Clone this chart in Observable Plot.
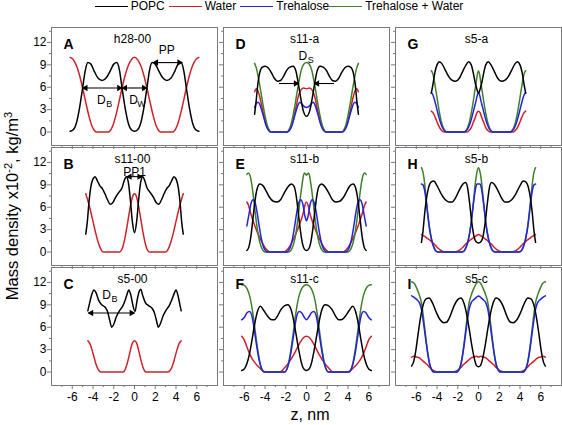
<!DOCTYPE html>
<html><head><meta charset="utf-8">
<script src="https://cdn.jsdelivr.net/npm/d3@7"></script>
<script src="https://cdn.jsdelivr.net/npm/@observablehq/plot@0.6"></script>
<style>
body{margin:0;background:#fff;}
#wrap{position:relative;width:562px;height:425px;background:#fff;font-family:'Liberation Sans',Arial,sans-serif;color:#000;overflow:hidden}
#legend{position:absolute;top:-1px;left:0;width:562px;height:14px;display:flex;justify-content:center;align-items:center;font-size:12px;line-height:12px;white-space:nowrap;z-index:2}
#legend .sw{display:inline-block;width:33px;height:0;margin-right:3px}
#legend .lb{margin-right:4px}
#ytitle{position:absolute;left:-168px;top:197px;width:360px;height:18px;line-height:18px;text-align:center;font-size:16.5px;transform:rotate(-90deg);white-space:nowrap;z-index:2}
#ytitle sup{font-size:11px;vertical-align:6px;line-height:0}
#xtitle{position:absolute;left:260px;top:405px;width:100px;height:20px;line-height:20px;text-align:center;font-size:16px;z-index:2}
#chart{position:absolute;left:0;top:20px;z-index:1}
</style>
</head><body>
<div id="wrap">
<div id="chart"></div>
<div id="legend"></div>
<div id="ytitle">Mass density x10<sup>-2</sup>, kg/m<sup>3</sup></div>
<div id="xtitle">z, nm</div>
</div>
<script>
// ---------- categories ----------
const seriesNames = ["POPC", "Water", "Trehalose", "Trehalose + Water"];
const seriesColors = ["#000000", "#cc2229", "#2323dd", "#3f8029"];
const panels   = ["A", "B", "C", "D", "E", "F", "G", "H", "I"];
const panelCol = [0, 0, 0, 1, 1, 1, 2, 2, 2];
const panelRow = [0, 1, 2, 0, 1, 2, 0, 1, 2];
const titles   = ["h28-00", "s11-00", "s5-00", "s11-a", "s11-b", "s11-c", "s5-a", "s5-b", "s5-c"];
const xMajor = [-6, -4, -2, 0, 2, 4, 6];
const xMinor = [-7, -5, -3, -1, 1, 3, 5, 7];
const yMajor = [0, 3, 6, 9, 12];
const yMinor = [1.5, 4.5, 7.5, 10.5, 13.5];

// ---------- series values [z, density] ----------
const popcA = [[-6.2,0.1],[-5.9,0.3],[-5.6,1.2],[-5.3,3.2],[-5.0,5.9],[-4.75,8.2],[-4.5,9.3],[-4.2,9.1],[-3.9,8.2],[-3.5,7.2],[-3.1,6.9],[-2.7,7.3],[-2.3,8.3],[-2.0,9.1],[-1.7,9.3],[-1.45,8.3],[-1.2,5.9],[-0.9,3.2],[-0.6,1.2],[-0.3,0.3],[0,0.1],[0.3,0.3],[0.6,1.2],[0.9,3.2],[1.2,5.9],[1.45,8.3],[1.7,9.3],[2.0,9.1],[2.3,8.3],[2.7,7.3],[3.1,6.9],[3.5,7.2],[3.9,8.2],[4.2,9.1],[4.5,9.3],[4.75,8.2],[5.0,5.9],[5.3,3.2],[5.6,1.2],[5.9,0.3],[6.2,0.1]];
const waterA = [[-6.2,10],[-5.9,9.7],[-5.6,8.9],[-5.3,7.6],[-5.0,5.9],[-4.7,4.0],[-4.4,2.2],[-4.1,0.8],[-3.8,0.1],[-3.6,0],[-2.6,0],[-2.4,0.1],[-2.1,0.8],[-1.8,2.2],[-1.5,4.0],[-1.2,5.9],[-0.9,7.6],[-0.6,8.9],[-0.3,9.7],[0,10],[0.3,9.7],[0.6,8.9],[0.9,7.6],[1.2,5.9],[1.5,4.0],[1.8,2.2],[2.1,0.8],[2.4,0.1],[2.6,0],[3.6,0],[3.8,0.1],[4.1,0.8],[4.4,2.2],[4.7,4.0],[5.0,5.9],[5.3,7.6],[5.6,8.9],[5.9,9.7],[6.2,10]];

const popcB = [[-4.7,2.4],[-4.55,4.0],[-4.4,6.5],[-4.2,8.8],[-4.0,9.8],[-3.8,10.1],[-3.6,9.6],[-3.35,8.9],[-3.1,8.5],[-2.85,7.8],[-2.6,7.0],[-2.35,6.4],[-2.1,6.6],[-1.8,7.4],[-1.5,8.0],[-1.2,8.6],[-1.0,9.5],[-0.8,10.1],[-0.6,9.4],[-0.4,7.0],[-0.2,4.0],[0,2.6],[0.2,4.0],[0.4,7.0],[0.6,9.4],[0.8,10.1],[1.0,9.5],[1.2,8.6],[1.5,8.0],[1.8,7.4],[2.1,6.6],[2.35,6.4],[2.6,7.0],[2.85,7.8],[3.1,8.5],[3.35,8.9],[3.6,9.6],[3.8,10.1],[4.0,9.8],[4.2,8.8],[4.4,6.5],[4.55,4.0],[4.7,2.4]];
const waterB = [[-4.7,7.8],[-4.5,6.9],[-4.25,5.6],[-4.0,4.1],[-3.75,2.6],[-3.5,1.3],[-3.25,0.4],[-3.0,0],[-1.45,0],[-1.2,0.4],[-0.95,1.7],[-0.7,3.6],[-0.5,5.3],[-0.3,6.8],[-0.1,7.7],[0,7.8],[0.1,7.7],[0.3,6.8],[0.5,5.3],[0.7,3.6],[0.95,1.7],[1.2,0.4],[1.45,0],[3.0,0],[3.25,0.4],[3.5,1.3],[3.75,2.6],[4.0,4.1],[4.25,5.6],[4.5,6.9],[4.7,7.8]];

const popcC = [[-4.5,8.2],[-4.3,9.4],[-4.1,10.5],[-3.9,11.0],[-3.7,10.6],[-3.45,9.6],[-3.15,9.0],[-2.85,8.7],[-2.6,8.1],[-2.4,7.0],[-2.2,6.0],[-2.0,6.4],[-1.75,7.4],[-1.45,8.2],[-1.15,8.8],[-0.9,9.6],[-0.7,10.5],[-0.55,11.0],[-0.35,10.3],[-0.15,8.9],[0.05,8.1],[0.25,9.6],[0.45,10.8],[0.6,11.1],[0.8,10.2],[1.05,9.3],[1.35,8.9],[1.65,8.6],[1.9,8.0],[2.1,7.0],[2.3,6.0],[2.5,6.5],[2.75,7.5],[3.05,8.3],[3.35,8.9],[3.6,9.7],[3.85,10.6],[4.0,11.0],[4.2,10.2],[4.35,9.2],[4.5,8.2]];
const waterC = [[-4.5,4.2],[-4.3,3.8],[-4.1,3.0],[-3.9,2.0],[-3.7,1.0],[-3.5,0.35],[-3.3,0.05],[-3.1,0],[-1.2,0],[-1.0,0.1],[-0.8,0.7],[-0.6,1.7],[-0.4,2.9],[-0.2,3.9],[0,4.2],[0.2,3.9],[0.4,2.9],[0.6,1.7],[0.8,0.7],[1.0,0.1],[1.2,0],[3.1,0],[3.3,0.05],[3.5,0.35],[3.7,1.0],[3.9,2.0],[4.1,3.0],[4.3,3.8],[4.5,4.2]];

const popcD = [[-5.0,2.4],[-4.85,4.2],[-4.7,6.3],[-4.5,8.0],[-4.25,8.7],[-4.0,8.8],[-3.7,8.6],[-3.4,8.0],[-3.1,7.2],[-2.8,6.8],[-2.5,6.9],[-2.2,7.5],[-1.9,8.3],[-1.6,8.7],[-1.3,8.8],[-1.05,8.3],[-0.8,6.6],[-0.55,4.5],[-0.3,2.8],[0,2.1],[0.3,2.8],[0.55,4.5],[0.8,6.6],[1.05,8.3],[1.3,8.8],[1.6,8.7],[1.9,8.3],[2.2,7.5],[2.5,6.9],[2.8,6.8],[3.1,7.2],[3.4,8.0],[3.7,8.6],[4.0,8.8],[4.25,8.7],[4.5,8.0],[4.7,6.3],[4.85,4.2],[5.0,2.4]];
const waterD = [[-5.0,5.4],[-4.85,5.8],[-4.7,5.6],[-4.5,4.7],[-4.3,3.4],[-4.1,2.1],[-3.9,1.0],[-3.7,0.35],[-3.5,0.05],[-3.35,0],[-1.95,0],[-1.8,0.05],[-1.6,0.35],[-1.4,1.0],[-1.2,2.1],[-1.0,3.4],[-0.8,4.7],[-0.55,5.6],[-0.3,5.9],[0,5.8],[0.3,5.9],[0.55,5.6],[0.8,4.7],[1.0,3.4],[1.2,2.1],[1.4,1.0],[1.6,0.35],[1.8,0.05],[1.95,0],[3.35,0],[3.5,0.05],[3.7,0.35],[3.9,1.0],[4.1,2.1],[4.3,3.4],[4.5,4.7],[4.7,5.6],[4.85,5.8],[5.0,5.4]];
const treD = [[-5.0,3.3],[-4.85,3.8],[-4.65,4.0],[-4.45,3.5],[-4.25,2.6],[-4.05,1.6],[-3.85,0.7],[-3.65,0.2],[-3.45,0],[-1.85,0],[-1.65,0.2],[-1.45,0.7],[-1.25,1.6],[-1.05,2.6],[-0.85,3.5],[-0.65,4.0],[-0.4,3.7],[-0.15,3.35],[0,3.3],[0.15,3.35],[0.4,3.7],[0.65,4.0],[0.85,3.5],[1.05,2.6],[1.25,1.6],[1.45,0.7],[1.65,0.2],[1.85,0],[3.45,0],[3.65,0.2],[3.85,0.7],[4.05,1.6],[4.25,2.6],[4.45,3.5],[4.65,4.0],[4.85,3.8],[5.0,3.3]];
const twD = [[-5.0,9.2],[-4.8,8.4],[-4.6,7.0],[-4.4,5.4],[-4.2,3.7],[-4.0,2.2],[-3.8,1.0],[-3.6,0.3],[-3.4,0],[-1.9,0],[-1.7,0.3],[-1.5,1.0],[-1.3,2.2],[-1.1,3.7],[-0.9,5.4],[-0.7,7.0],[-0.5,8.3],[-0.25,9.1],[0,9.3],[0.25,9.1],[0.5,8.3],[0.7,7.0],[0.9,5.4],[1.1,3.7],[1.3,2.2],[1.5,1.0],[1.7,0.3],[1.9,0],[3.4,0],[3.6,0.3],[3.8,1.0],[4.0,2.2],[4.2,3.7],[4.4,5.4],[4.6,7.0],[4.8,8.4],[5.0,9.2]];

const popcE = [[-5.75,0.2],[-5.55,0.7],[-5.35,2.2],[-5.15,4.6],[-4.95,7.0],[-4.75,8.5],[-4.5,9.1],[-4.2,8.9],[-3.9,8.2],[-3.55,7.3],[-3.2,6.8],[-2.85,6.7],[-2.5,7.0],[-2.15,7.9],[-1.8,8.7],[-1.45,9.1],[-1.2,8.8],[-1.0,7.6],[-0.8,5.4],[-0.6,3.0],[-0.4,1.2],[-0.2,0.4],[0,0.2],[0.2,0.4],[0.4,1.2],[0.6,3.0],[0.8,5.4],[1.0,7.6],[1.2,8.8],[1.45,9.1],[1.8,8.7],[2.15,7.9],[2.5,7.0],[2.85,6.7],[3.2,6.8],[3.55,7.3],[3.9,8.2],[4.2,8.9],[4.5,9.1],[4.75,8.5],[4.95,7.0],[5.15,4.6],[5.35,2.2],[5.55,0.7],[5.75,0.2]];
const waterE = [[-5.75,6.7],[-5.6,6.3],[-5.4,5.3],[-5.2,4.4],[-5.0,3.6],[-4.75,2.7],[-4.5,1.9],[-4.25,1.2],[-4.0,0.6],[-3.75,0.2],[-3.5,0],[-2.2,0],[-1.95,0.2],[-1.7,0.6],[-1.45,1.2],[-1.2,1.9],[-0.95,2.7],[-0.7,3.6],[-0.5,4.4],[-0.3,5.3],[-0.15,6.3],[0,6.7],[0.15,6.3],[0.3,5.3],[0.5,4.4],[0.7,3.6],[0.95,2.7],[1.2,1.9],[1.45,1.2],[1.7,0.6],[1.95,0.2],[2.2,0],[3.5,0],[3.75,0.2],[4.0,0.6],[4.25,1.2],[4.5,1.9],[4.75,2.7],[5.0,3.6],[5.2,4.4],[5.4,5.3],[5.6,6.3],[5.75,6.7]];
const treE = [[-5.75,3.5],[-5.55,5.0],[-5.35,6.5],[-5.15,7.0],[-4.95,6.6],[-4.75,5.2],[-4.55,3.4],[-4.35,1.8],[-4.15,0.7],[-3.95,0.2],[-3.8,0],[-1.9,0],[-1.75,0.2],[-1.55,0.7],[-1.35,1.8],[-1.15,3.4],[-0.95,5.2],[-0.75,6.6],[-0.55,7.0],[-0.35,6.4],[-0.15,4.8],[0,4.2],[0.15,4.8],[0.35,6.4],[0.55,7.0],[0.75,6.6],[0.95,5.2],[1.15,3.4],[1.35,1.8],[1.55,0.7],[1.75,0.2],[1.9,0],[3.8,0],[3.95,0.2],[4.15,0.7],[4.35,1.8],[4.55,3.4],[4.75,5.2],[4.95,6.6],[5.15,7.0],[5.35,6.5],[5.55,5.0],[5.75,3.5]];
const twE = [[-5.75,10.4],[-5.6,10.6],[-5.45,10.3],[-5.3,9.3],[-5.15,7.8],[-5.0,6.0],[-4.85,4.2],[-4.7,2.7],[-4.5,1.3],[-4.3,0.5],[-4.1,0.1],[-3.9,0],[-1.8,0],[-1.6,0.1],[-1.4,0.5],[-1.2,1.3],[-1.0,2.7],[-0.85,4.2],[-0.7,6.0],[-0.55,7.8],[-0.4,9.3],[-0.3,10.2],[-0.2,10.6],[0,10.3],[0.2,10.6],[0.3,10.2],[0.4,9.3],[0.55,7.8],[0.7,6.0],[0.85,4.2],[1.0,2.7],[1.2,1.3],[1.4,0.5],[1.6,0.1],[1.8,0],[3.9,0],[4.1,0.1],[4.3,0.5],[4.5,1.3],[4.7,2.7],[4.85,4.2],[5.0,6.0],[5.15,7.8],[5.3,9.3],[5.45,10.3],[5.6,10.6],[5.75,10.4]];

const popcF = [[-6.25,0.2],[-6.0,0.4],[-5.75,1.1],[-5.5,2.4],[-5.25,4.3],[-5.0,6.4],[-4.75,8.0],[-4.45,8.8],[-4.1,8.2],[-3.7,7.4],[-3.35,7.0],[-3.1,7.0],[-2.8,7.5],[-2.45,8.4],[-2.1,8.9],[-1.8,9.0],[-1.5,8.4],[-1.25,7.0],[-1.0,5.0],[-0.75,3.0],[-0.5,1.3],[-0.25,0.4],[0,0.2],[0.25,0.4],[0.5,1.3],[0.75,3.0],[1.0,5.0],[1.25,7.0],[1.5,8.4],[1.8,9.0],[2.1,8.9],[2.45,8.4],[2.8,7.5],[3.1,7.0],[3.35,7.0],[3.7,7.4],[4.1,8.2],[4.45,8.8],[4.75,8.0],[5.0,6.4],[5.25,4.3],[5.5,2.4],[5.75,1.1],[6.0,0.4],[6.25,0.2]];
const waterF = [[-6.25,4.8],[-6.0,4.3],[-5.75,3.4],[-5.5,2.5],[-5.25,1.8],[-5.0,1.3],[-4.7,0.8],[-4.4,0.4],[-4.1,0.1],[-3.85,0],[-2.6,0],[-2.35,0.2],[-2.1,0.6],[-1.8,1.1],[-1.5,1.7],[-1.2,2.4],[-0.9,3.2],[-0.6,4.0],[-0.3,4.6],[0,4.8],[0.3,4.6],[0.6,4.0],[0.9,3.2],[1.2,2.4],[1.5,1.7],[1.8,1.1],[2.1,0.6],[2.35,0.2],[2.6,0],[3.85,0],[4.1,0.1],[4.4,0.4],[4.7,0.8],[5.0,1.3],[5.25,1.8],[5.5,2.5],[5.75,3.4],[6.0,4.3],[6.25,4.8]];
const treF = [[-6.25,7.0],[-6.0,7.3],[-5.75,7.9],[-5.5,8.1],[-5.3,7.7],[-5.1,6.3],[-4.9,4.4],[-4.7,2.6],[-4.5,1.2],[-4.3,0.35],[-4.1,0],[-2.1,0],[-1.9,0.35],[-1.7,1.2],[-1.5,2.6],[-1.3,4.4],[-1.1,6.3],[-0.9,7.7],[-0.7,8.1],[-0.45,7.9],[-0.2,7.3],[0,7.0],[0.2,7.3],[0.45,7.9],[0.7,8.1],[0.9,7.7],[1.1,6.3],[1.3,4.4],[1.5,2.6],[1.7,1.2],[1.9,0.35],[2.1,0],[4.1,0],[4.3,0.35],[4.5,1.2],[4.7,2.6],[4.9,4.4],[5.1,6.3],[5.3,7.7],[5.5,8.1],[5.75,7.9],[6.0,7.3],[6.25,7.0]];
const twF = [[-6.25,11.7],[-6.0,11.6],[-5.75,11.2],[-5.5,10.3],[-5.3,9.0],[-5.1,7.2],[-4.9,5.0],[-4.7,3.0],[-4.5,1.4],[-4.3,0.4],[-4.1,0],[-2.1,0],[-1.9,0.4],[-1.7,1.4],[-1.5,3.0],[-1.3,5.0],[-1.1,7.2],[-0.9,9.0],[-0.7,10.3],[-0.45,11.2],[-0.2,11.6],[0,11.7],[0.2,11.6],[0.45,11.2],[0.7,10.3],[0.9,9.0],[1.1,7.2],[1.3,5.0],[1.5,3.0],[1.7,1.4],[1.9,0.4],[2.1,0],[4.1,0],[4.3,0.4],[4.5,1.4],[4.7,3.0],[4.9,5.0],[5.1,7.2],[5.3,9.0],[5.5,10.3],[5.75,11.2],[6.0,11.6],[6.25,11.7]];

const popcG = [[-4.55,5.2],[-4.4,6.3],[-4.2,8.0],[-4.0,9.0],[-3.75,9.4],[-3.5,9.1],[-3.2,8.3],[-2.9,7.5],[-2.6,7.0],[-2.2,6.8],[-1.85,7.2],[-1.5,8.2],[-1.2,9.0],[-0.95,9.4],[-0.7,9.0],[-0.5,7.9],[-0.3,6.5],[-0.1,5.5],[0,5.2],[0.1,5.5],[0.3,6.5],[0.5,7.9],[0.7,9.0],[0.95,9.4],[1.2,9.0],[1.5,8.2],[1.85,7.2],[2.2,6.8],[2.6,7.0],[2.9,7.5],[3.2,8.3],[3.5,9.1],[3.75,9.4],[4.0,9.0],[4.2,8.0],[4.4,6.3],[4.55,5.2]];
const waterG = [[-4.55,2.8],[-4.35,2.5],[-4.15,1.9],[-3.95,1.2],[-3.75,0.6],[-3.55,0.2],[-3.35,0],[-1.1,0],[-0.9,0.2],[-0.7,0.6],[-0.5,1.3],[-0.3,2.0],[-0.15,2.6],[0,2.8],[0.15,2.6],[0.3,2.0],[0.5,1.3],[0.7,0.6],[0.9,0.2],[1.1,0],[3.35,0],[3.55,0.2],[3.75,0.6],[3.95,1.2],[4.15,1.9],[4.35,2.5],[4.55,2.8]];
const treG = [[-4.55,5.3],[-4.4,5.0],[-4.2,4.1],[-4.0,3.0],[-3.8,1.9],[-3.6,1.0],[-3.4,0.4],[-3.2,0.1],[-3.0,0],[-1.45,0],[-1.25,0.1],[-1.05,0.4],[-0.85,1.0],[-0.65,1.9],[-0.45,3.0],[-0.25,4.1],[-0.1,5.0],[0,5.3],[0.1,5.0],[0.25,4.1],[0.45,3.0],[0.65,1.9],[0.85,1.0],[1.05,0.4],[1.25,0.1],[1.45,0],[3.0,0],[3.2,0.1],[3.4,0.4],[3.6,1.0],[3.8,1.9],[4.0,3.0],[4.2,4.1],[4.4,5.0],[4.55,5.3]];
const twG = [[-4.55,8.2],[-4.4,7.8],[-4.2,6.4],[-4.0,4.6],[-3.8,2.9],[-3.6,1.5],[-3.4,0.6],[-3.2,0.15],[-3.0,0],[-1.45,0],[-1.25,0.15],[-1.05,0.6],[-0.85,1.5],[-0.65,2.9],[-0.45,4.6],[-0.25,6.4],[-0.1,7.8],[0,8.2],[0.1,7.8],[0.25,6.4],[0.45,4.6],[0.65,2.9],[0.85,1.5],[1.05,0.6],[1.25,0.15],[1.45,0],[3.0,0],[3.2,0.15],[3.4,0.6],[3.6,1.5],[3.8,2.9],[4.0,4.6],[4.2,6.4],[4.4,7.8],[4.55,8.2]];

const popcH = [[-5.5,1.3],[-5.35,2.8],[-5.2,5.0],[-5.0,7.3],[-4.8,8.7],[-4.55,9.4],[-4.3,9.5],[-4.0,8.9],[-3.6,7.8],[-3.2,7.0],[-2.85,6.7],[-2.55,6.7],[-2.2,7.3],[-1.85,8.3],[-1.5,9.1],[-1.25,9.3],[-1.05,8.6],[-0.85,6.5],[-0.65,4.0],[-0.45,2.2],[-0.25,1.4],[0,1.2],[0.25,1.4],[0.45,2.2],[0.65,4.0],[0.85,6.5],[1.05,8.6],[1.25,9.3],[1.5,9.1],[1.85,8.3],[2.2,7.3],[2.55,6.7],[2.85,6.7],[3.2,7.0],[3.6,7.8],[4.0,8.9],[4.3,9.5],[4.55,9.4],[4.8,8.7],[5.0,7.3],[5.2,5.0],[5.35,2.8],[5.5,1.3]];
const waterH = [[-5.5,2.35],[-5.2,2.1],[-4.9,1.8],[-4.6,1.5],[-4.3,1.1],[-4.0,0.65],[-3.7,0.3],[-3.4,0.08],[-3.1,0],[-2.4,0],[-2.1,0.08],[-1.8,0.3],[-1.5,0.65],[-1.2,1.1],[-0.9,1.5],[-0.6,1.8],[-0.3,2.1],[0,2.35],[0.3,2.1],[0.6,1.8],[0.9,1.5],[1.2,1.1],[1.5,0.65],[1.8,0.3],[2.1,0.08],[2.4,0],[3.1,0],[3.4,0.08],[3.7,0.3],[4.0,0.65],[4.3,1.1],[4.6,1.5],[4.9,1.8],[5.2,2.1],[5.5,2.35]];
const treH = [[-5.5,9.1],[-5.35,9.0],[-5.2,8.3],[-5.05,6.9],[-4.9,5.1],[-4.75,3.4],[-4.55,1.8],[-4.35,0.8],[-4.15,0.2],[-3.95,0],[-1.55,0],[-1.35,0.2],[-1.15,0.8],[-0.95,1.8],[-0.75,3.4],[-0.6,5.1],[-0.45,6.9],[-0.3,8.4],[-0.15,9.1],[0,9.1],[0.15,9.1],[0.3,8.4],[0.45,6.9],[0.6,5.1],[0.75,3.4],[0.95,1.8],[1.15,0.8],[1.35,0.2],[1.55,0],[3.95,0],[4.15,0.2],[4.35,0.8],[4.55,1.8],[4.75,3.4],[4.9,5.1],[5.05,6.9],[5.2,8.3],[5.35,9.0],[5.5,9.1]];
const twH = [[-5.5,11.3],[-5.35,10.7],[-5.2,9.3],[-5.05,7.3],[-4.9,5.3],[-4.75,3.5],[-4.55,1.9],[-4.35,0.8],[-4.15,0.25],[-3.95,0.05],[-3.7,0],[-1.8,0],[-1.55,0.05],[-1.35,0.25],[-1.15,0.8],[-0.95,1.9],[-0.75,3.5],[-0.6,5.3],[-0.45,7.3],[-0.3,9.3],[-0.15,10.7],[0,11.3],[0.15,10.7],[0.3,9.3],[0.45,7.3],[0.6,5.3],[0.75,3.5],[0.95,1.9],[1.15,0.8],[1.35,0.25],[1.55,0.05],[1.8,0],[3.7,0],[3.95,0.05],[4.15,0.25],[4.35,0.8],[4.55,1.9],[4.75,3.5],[4.9,5.3],[5.05,7.3],[5.2,9.3],[5.35,10.7],[5.5,11.3]];

const popcI = [[-6.45,0.8],[-6.25,1.4],[-6.05,2.8],[-5.85,4.8],[-5.6,7.2],[-5.35,8.9],[-5.05,9.8],[-4.75,9.9],[-4.45,9.3],[-4.1,8.1],[-3.7,7.0],[-3.35,6.6],[-3.05,6.7],[-2.7,7.6],[-2.35,8.9],[-2.0,9.7],[-1.7,9.9],[-1.4,9.2],[-1.15,7.8],[-0.9,5.8],[-0.65,3.6],[-0.4,1.8],[-0.2,0.9],[0,0.7],[0.2,0.9],[0.4,1.8],[0.65,3.6],[0.9,5.8],[1.15,7.8],[1.4,9.2],[1.7,9.9],[2.0,9.7],[2.35,8.9],[2.7,7.6],[3.05,6.7],[3.35,6.6],[3.7,7.0],[4.1,8.1],[4.45,9.3],[4.75,9.9],[5.05,9.8],[5.35,8.9],[5.6,7.2],[5.85,4.8],[6.05,2.8],[6.25,1.4],[6.45,0.8]];
const waterI = [[-6.45,2.0],[-6.2,2.1],[-5.95,2.0],[-5.7,1.9],[-5.45,1.6],[-5.2,1.3],[-4.95,1.0],[-4.7,0.6],[-4.45,0.3],[-4.2,0.1],[-3.95,0],[-2.45,0],[-2.2,0.1],[-1.95,0.3],[-1.7,0.6],[-1.45,1.0],[-1.2,1.3],[-0.95,1.6],[-0.7,1.9],[-0.45,2.0],[-0.2,2.1],[0,2.0],[0.2,2.1],[0.45,2.0],[0.7,1.9],[0.95,1.6],[1.2,1.3],[1.45,1.0],[1.7,0.6],[1.95,0.3],[2.2,0.1],[2.45,0],[3.95,0],[4.2,0.1],[4.45,0.3],[4.7,0.6],[4.95,1.0],[5.2,1.3],[5.45,1.6],[5.7,1.9],[5.95,2.0],[6.2,2.1],[6.45,2.0]];
const treI = [[-6.45,10.2],[-6.2,10.0],[-5.95,9.7],[-5.7,9.3],[-5.5,8.4],[-5.3,6.6],[-5.1,4.5],[-4.9,2.5],[-4.7,1.0],[-4.5,0.25],[-4.3,0],[-2.1,0],[-1.9,0.25],[-1.7,1.0],[-1.5,2.5],[-1.3,4.5],[-1.1,6.6],[-0.9,8.4],[-0.7,9.3],[-0.45,9.7],[-0.2,10.0],[0,10.2],[0.2,10.0],[0.45,9.7],[0.7,9.3],[0.9,8.4],[1.1,6.6],[1.3,4.5],[1.5,2.5],[1.7,1.0],[1.9,0.25],[2.1,0],[4.3,0],[4.5,0.25],[4.7,1.0],[4.9,2.5],[5.1,4.5],[5.3,6.6],[5.5,8.4],[5.7,9.3],[5.95,9.7],[6.2,10.0],[6.45,10.2]];
const twI = [[-6.45,12.1],[-6.2,11.9],[-5.95,11.2],[-5.7,10.3],[-5.5,9.3],[-5.3,7.3],[-5.1,4.9],[-4.9,2.7],[-4.7,1.1],[-4.5,0.3],[-4.3,0],[-2.1,0],[-1.9,0.3],[-1.7,1.1],[-1.5,2.7],[-1.3,4.9],[-1.1,7.3],[-0.9,9.3],[-0.7,10.3],[-0.45,11.2],[-0.2,11.9],[0,12.1],[0.2,11.9],[0.45,11.2],[0.7,10.3],[0.9,9.3],[1.1,7.3],[1.3,4.9],[1.5,2.7],[1.7,1.1],[1.9,0.3],[2.1,0],[4.3,0],[4.5,0.3],[4.7,1.1],[4.9,2.7],[5.1,4.9],[5.3,7.3],[5.5,9.3],[5.7,10.3],[5.95,11.2],[6.2,11.9],[6.45,12.1]];

// ---------- annotations (distances marked in the figure) ----------
const arrowSpans = [
  {panel: "A", x1: -5.0, x2: -1.2, y: 5.9, heads: "both"},
  {panel: "A", x1: -1.2, x2: 1.2, y: 5.9, heads: "both"},
  {panel: "A", x1: 1.8, x2: 4.6, y: 9.3, heads: "both"},
  {panel: "B", x1: -0.75, x2: 0.75, y: 10.1, heads: "both"},
  {panel: "C", x1: -4.45, x2: 0.0, y: 7.9, heads: "both"},
  {panel: "D", x1: -2.65, x2: -0.75, y: 6.5, heads: "end"},
  {panel: "D", x1: 2.65, x2: 0.75, y: 6.5, heads: "end"}
];
const annoLabels = [
  {panel: "A", x: 3.1, y: 10.9, text: "PP", sub: ""},
  {panel: "A", x: -3.2, y: 4.3, text: "D", sub: "B"},
  {panel: "A", x: -0.1, y: 4.3, text: "D", sub: "W"},
  {panel: "B", x: 0.0, y: 10.65, text: "PP1", sub: ""},
  {panel: "C", x: -2.7, y: 10.3, text: "D", sub: "B"},
  {panel: "D", x: -0.35, y: 10.2, text: "D", sub: "S"}
];

// ---------- build tables ----------
const curves = [
  ["A","Water",waterA],["A","POPC",popcA],
  ["B","Water",waterB],["B","POPC",popcB],
  ["C","Water",waterC],["C","POPC",popcC],
  ["D","Water",waterD],["D","Trehalose + Water",twD],["D","Trehalose",treD],["D","POPC",popcD],
  ["E","Water",waterE],["E","Trehalose + Water",twE],["E","Trehalose",treE],["E","POPC",popcE],
  ["F","Water",waterF],["F","Trehalose + Water",twF],["F","Trehalose",treF],["F","POPC",popcF],
  ["G","Water",waterG],["G","Trehalose + Water",twG],["G","Trehalose",treG],["G","POPC",popcG],
  ["H","Water",waterH],["H","Trehalose + Water",twH],["H","Trehalose",treH],["H","POPC",popcH],
  ["I","Water",waterI],["I","Trehalose + Water",twI],["I","Trehalose",treI],["I","POPC",popcI]
];
const place = p => { const i = panels.indexOf(p); return {col: panelCol[i], row: panelRow[i]}; };
const rows = [];
curves.forEach(([panel, series, pts]) => {
  const {col, row} = place(panel);
  pts.forEach(([x, y]) => rows.push({panel, key: panel + series, series, col, row, x, y}));
});
const panelInfo = panels.map((p, i) => ({panel: p, col: panelCol[i], row: panelRow[i], title: titles[i]}));
const spans = arrowSpans.map(d => ({...d, ...place(d.panel)}));
const rightHeads = [], leftHeads = [];
spans.forEach(d => {
  const hi = Math.max(d.x1, d.x2), lo = Math.min(d.x1, d.x2);
  if (d.heads === "both") { rightHeads.push({...d, hx: hi}); leftHeads.push({...d, hx: lo}); }
  else if (d.x2 > d.x1) rightHeads.push({...d, hx: d.x2});
  else leftHeads.push({...d, hx: d.x2});
});
const labels = annoLabels.map(d => ({...d, ...place(d.panel)}));

// ---------- legend ----------
const legend = document.getElementById("legend");
seriesNames.forEach((s, i) => {
  const sw = document.createElement("span");
  sw.className = "sw"; sw.style.borderTop = "1.6px solid " + seriesColors[i];
  const lb = document.createElement("span");
  lb.className = "lb"; lb.textContent = s;
  if (s === "Trehalose") lb.style.marginRight = "0px";
  legend.append(sw, lb);
});

// ---------- chart ----------
const gray = "#7a7a7a";
const chart = Plot.plot({
  width: 562, height: 405,
  marginLeft: 50, marginRight: 1, marginTop: 6, marginBottom: 39,
  style: {fontFamily: "'Liberation Sans', Arial, sans-serif", fontSize: "12px", color: "#000", background: "#fff", overflow: "visible"},
  fx: {domain: [0, 1, 2], paddingInner: 0.035, paddingOuter: 0, axis: null},
  fy: {domain: [0, 1, 2], paddingInner: 0.02, paddingOuter: 0, axis: null},
  x: {domain: [-8, 8]},
  y: {domain: [-1.8, 14]},
  color: {domain: seriesNames, range: seriesColors},
  marks: [
    Plot.frame({stroke: gray, strokeWidth: 1}),
    Plot.axisX({ticks: xMajor, tickSize: 4, fill: "none", stroke: gray, label: null, facetAnchor: null}),
    Plot.axisX({ticks: xMinor, tickSize: 2, fill: "none", stroke: gray, label: null, facetAnchor: null}),
    Plot.axisY({ticks: yMajor, tickSize: 4, fill: "none", stroke: gray, label: null, facetAnchor: null}),
    Plot.axisY({ticks: yMinor, tickSize: 2, fill: "none", stroke: gray, label: null, facetAnchor: null}),
    Plot.axisX({ticks: xMajor, tickSize: 0, tickPadding: 7, tickFormat: d => String(d), fontSize: 12, label: null, facetAnchor: "bottom"}),
    Plot.axisY({ticks: yMajor, tickSize: 0, tickPadding: 5, tickFormat: d => String(d), fontSize: 12, label: null, facetAnchor: "left"}),
    Plot.line(rows, {x: "x", y: "y", z: "key", stroke: "series", fx: "col", fy: "row", strokeWidth: 1.5, curve: "monotone-x"}),
    Plot.link(spans, {x1: "x1", x2: "x2", y1: "y", y2: "y", fx: "col", fy: "row", stroke: "#000", strokeWidth: 1.1}),
    Plot.dot(rightHeads, {x: "hx", y: "y", fx: "col", fy: "row", symbol: "triangle", rotate: 90, r: 2.4, fill: "#000", stroke: "none", dx: -3}),
    Plot.dot(leftHeads, {x: "hx", y: "y", fx: "col", fy: "row", symbol: "triangle", rotate: -90, r: 2.4, fill: "#000", stroke: "none", dx: 3}),
    Plot.text(labels, {x: "x", y: "y", fx: "col", fy: "row", text: "text", fontSize: 12}),
    Plot.text(labels.filter(d => d.sub), {x: "x", y: "y", fx: "col", fy: "row", text: "sub", fontSize: 9, dx: 8, dy: 4}),
    Plot.text(panelInfo, {fx: "col", fy: "row", text: "panel", frameAnchor: "top-left", dx: 12, dy: 12, fontSize: 14, fontWeight: "bold"}),
    Plot.text(panelInfo, {fx: "col", fy: "row", text: "title", frameAnchor: "top", dx: -2, dy: 7, fontSize: 12})
  ]
});
document.getElementById("chart").append(chart);
</script>
</body></html>
